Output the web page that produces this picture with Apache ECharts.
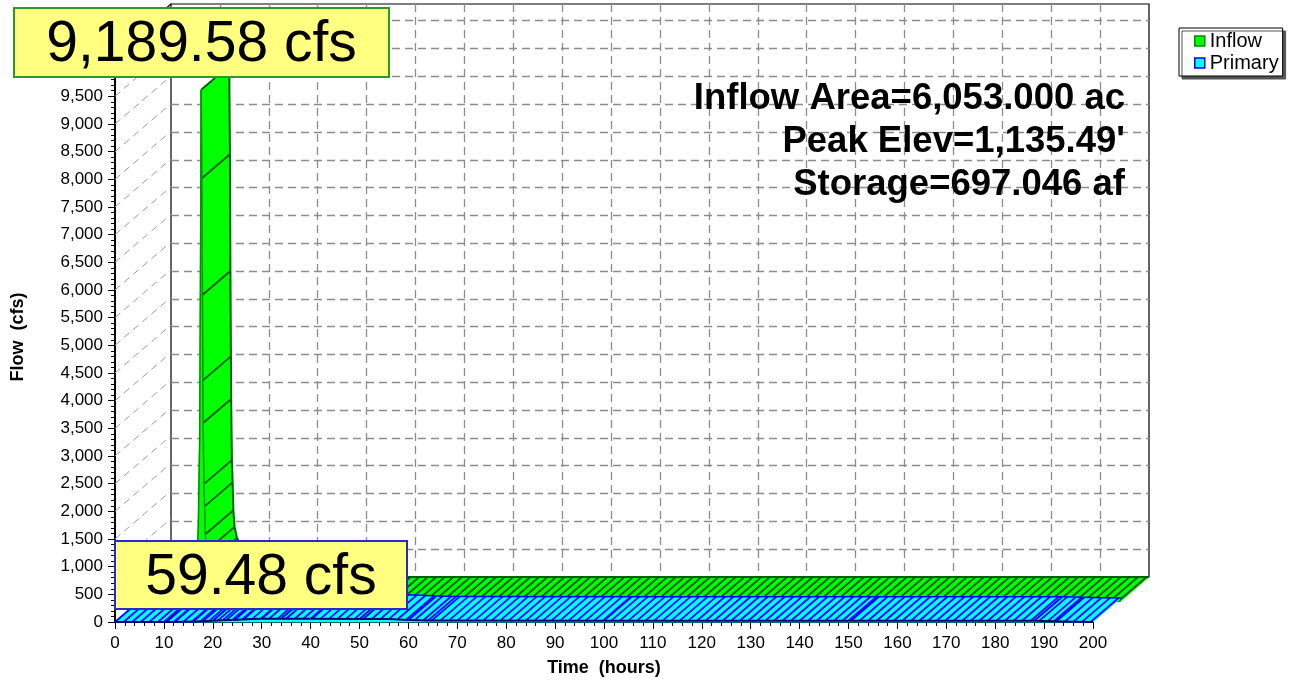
<!DOCTYPE html>
<html><head><meta charset="utf-8">
<script src="https://cdn.jsdelivr.net/npm/echarts@6/dist/echarts.min.js"></script>
<style>html,body{margin:0;padding:0;background:#fff}#c{width:1294px;height:682px}</style>
</head><body><div id="c"></div>
<script>
// ---- data ----
const seriesNames = ['Inflow', 'Primary'];
const inflowHours = [0, 6, 9, 10, 11, 11.3, 11.6, 11.8, 11.9, 12.05, 12.15, 12.3, 12.45, 12.6, 12.75, 13, 13.5, 14.5, 16, 18, 20, 24, 24.5, 26, 30, 40, 200];
const inflowCfs   = [0, 20, 100, 250, 700, 1300, 3000, 7000, 9189.58, 7600, 5500, 3200, 2100, 1700, 1200, 900, 700, 550, 450, 380, 330, 280, 150, 50, 15, 0, 0];
const primaryHours = [0, 10, 12, 14, 16, 18, 20, 22, 24, 26, 28, 30, 34, 40, 50, 56, 60, 64, 100, 150, 188, 192, 196, 200];
const primaryCfs   = [0, 0, 1, 5, 10, 15, 22, 30, 38, 45, 52, 57, 59.48, 58, 55, 52, 35, 25, 24, 23, 22, 14, 4, 0];
const statsLines = ['Inflow Area=6,053.000 ac', "Peak Elev=1,135.49'", 'Storage=697.046 af'];
const xAxisName = 'Time  (hours)';
const yAxisName = 'Flow  (cfs)';
const X_MIN = 0, X_MAX = 200, X_STEP = 10;
const Y_MIN = 0, Y_MAX = 10300, Y_STEP = 500;

// ---- layout / style ----
const FONT = '"Liberation Sans", Arial, sans-serif';
const GL = 115, GT = 52, GW = 978, GH = 573;   // front plane
const DX = 56, DY = 48;                         // full depth offset
const HATCH_H = 1.75;                           // hatch spacing in hours
const OX = DX / 2, OY = DY / 2;                 // depth of one ribbon

const fmt = v => v.toLocaleString('en-US');
const fmt2 = v => v.toLocaleString('en-US', {minimumFractionDigits: 2, maximumFractionDigits: 2});

// ribbon segments that face the viewer (screen rise flatter than the depth direction)
function segVisible(hours, cfs, i) {
  const sx = (hours[i + 1] - hours[i]) * GW / (X_MAX - X_MIN);
  const sy = (cfs[i + 1] - cfs[i]) * GH / (Y_MAX - Y_MIN);
  return sy * OX < sx * OY;
}
// positions of the depth (hatch) lines along the drawn polyline
function hatchAlong(hours, cfs) {
  const out = [];
  for (let i = 0; i < hours.length - 1; i++) {
    if (!segVisible(hours, cfs, i)) continue;
    const t0 = hours[i], t1 = hours[i + 1];
    out.push([t0, cfs[i]]);
    for (let k = Math.ceil(t0 / HATCH_H - 1e-9); k * HATCH_H < t1 - 1e-9; k++) {
      const f = (k * HATCH_H - t0) / (t1 - t0);
      if (f > 1e-6) out.push([k * HATCH_H, cfs[i] + f * (cfs[i + 1] - cfs[i])]);
    }
  }
  return out;
}

// top surface of a ribbon: one quad per segment, extruded in depth
function ribbon(hours, cfs, sty) {
  return function (params, api) {
    const i = params.dataIndex;
    if (i >= hours.length - 1) return null;
    const a = api.coord([api.value(0), api.value(1)]);
    const b = api.coord([hours[i + 1], cfs[i + 1]]);
    const c = [b[0] + OX, b[1] - OY], d = [a[0] + OX, a[1] - OY];
    return {type: 'group', children: [
      {type: 'polygon', z2: i * 2, shape: {points: [a, b, c, d]}, style: {fill: sty.fill, stroke: sty.fill, lineWidth: 0.8}},
      {type: 'line', z2: i * 2 + 1, shape: {x1: d[0], y1: d[1], x2: c[0], y2: c[1]}, style: {stroke: sty.back, lineWidth: sty.backW}}
    ]};
  };
}
// front face of a ribbon: area between the curve and zero
function frontFace(hours, cfs, sty) {
  return function (params, api) {
    const i = params.dataIndex;
    if (i >= hours.length - 1) return null;
    const a = api.coord([api.value(0), api.value(1)]);
    const b = api.coord([hours[i + 1], cfs[i + 1]]);
    const b0 = api.coord([hours[i + 1], 0]), a0 = api.coord([api.value(0), 0]);
    return {type: 'group', children: [
      {type: 'polygon', shape: {points: [a, b, b0, a0]}, style: {fill: sty.fill, stroke: sty.fill, lineWidth: 0.8}},
      {type: 'line', z2: 5, shape: {x1: a[0], y1: a[1], x2: b[0], y2: b[1]}, style: {stroke: sty.line, lineWidth: sty.lineW}}
    ]};
  };
}
function hatchRender(color, width) {
  return function (params, api) {
    const p = api.coord([api.value(0), api.value(1)]);
    return {type: 'line', shape: {x1: p[0], y1: p[1], x2: p[0] + OX, y2: p[1] - OY}, style: {stroke: color, lineWidth: width}};
  };
}

const wallTicks = [];
for (let v = Y_MIN + Y_STEP; v < Y_MAX; v += Y_STEP) wallTicks.push([0, v]);
wallTicks.push([0, Y_MAX]);

const inflowPeak = Math.max(...inflowCfs);
const primaryPeak = Math.max(...primaryCfs);
const inflowData = inflowHours.map((t, k) => [t, inflowCfs[k]]);
const primaryData = primaryHours.map((t, k) => [t, primaryCfs[k]]);

const hiddenX = (g) => ({gridIndex: g, type: 'value', min: X_MIN, max: X_MAX, interval: X_STEP, show: false});
const hiddenY = (g) => ({gridIndex: g, type: 'value', min: Y_MIN, max: Y_MAX, interval: Y_STEP, show: false});

const option = {
  animation: false,
  backgroundColor: '#fff',
  grid: [
    {left: GL, top: GT, width: GW, height: GH},
    {left: GL + DX, top: GT - DY, width: GW, height: GH, show: true, borderColor: '#000', borderWidth: 1.2, backgroundColor: 'transparent', z: 0},
    {left: GL + OX, top: GT - OY, width: GW, height: GH}
  ],
  xAxis: [
    {gridIndex: 0, type: 'value', min: X_MIN, max: X_MAX, interval: X_STEP,
      axisLine: {show: true, onZero: false, lineStyle: {color: '#000', width: 1.2}},
      axisTick: {show: true, length: 7, lineStyle: {color: '#000', width: 1}},
      minorTick: {show: true, splitNumber: 5, length: 4, lineStyle: {color: '#000', width: 1}},
      axisLabel: {fontSize: 17, color: '#000', margin: 13, fontFamily: FONT},
      splitLine: {show: false},
      name: xAxisName, nameLocation: 'middle', nameGap: 37,
      nameTextStyle: {fontSize: 18, fontWeight: 'bold', color: '#000', fontFamily: FONT}},
    {gridIndex: 1, type: 'value', min: X_MIN, max: X_MAX, interval: X_STEP,
      axisLine: {show: false}, axisTick: {show: false}, axisLabel: {show: false},
      splitLine: {show: true, showMinLine: false, showMaxLine: false, lineStyle: {color: '#8c8c8c', width: 1.3, type: [8, 5]}}},
    hiddenX(2)
  ],
  yAxis: [
    {gridIndex: 0, type: 'value', min: Y_MIN, max: Y_MAX, interval: Y_STEP,
      axisLine: {show: true, onZero: false, lineStyle: {color: '#000', width: 2}},
      axisTick: {show: true, length: 7, lineStyle: {color: '#000', width: 1}},
      minorTick: {show: true, splitNumber: 5, length: 4, lineStyle: {color: '#000', width: 1}},
      axisLabel: {fontSize: 17, color: '#000', margin: 12, fontFamily: FONT, formatter: fmt, showMaxLabel: false},
      splitLine: {show: false},
      name: yAxisName, nameLocation: 'middle', nameGap: 88,
      nameTextStyle: {fontSize: 18, fontWeight: 'bold', color: '#000', fontFamily: FONT}},
    {gridIndex: 1, type: 'value', min: Y_MIN, max: Y_MAX, interval: Y_STEP,
      axisLine: {show: false}, axisTick: {show: false}, axisLabel: {show: false},
      splitLine: {show: true, showMinLine: false, showMaxLine: false, lineStyle: {color: '#8c8c8c', width: 1.3, type: [8, 5]}}},
    hiddenY(2)
  ],
  legend: {
    orient: 'vertical', left: 1179, top: 28, selectedMode: false,
    itemWidth: 10, itemHeight: 10, itemGap: 2,
    padding: [3, 4, 3, 15],
    backgroundColor: '#fff', borderColor: '#000', borderWidth: 1,
    shadowColor: '#555', shadowOffsetX: 3, shadowOffsetY: 3, shadowBlur: 0,
    textStyle: {fontSize: 20, color: '#000', fontFamily: FONT, lineHeight: 17},
    data: [
      {name: seriesNames[0], icon: 'rect', itemStyle: {color: '#00ff00', borderColor: '#008800', borderWidth: 1.5}},
      {name: seriesNames[1], icon: 'rect', itemStyle: {color: '#00ffff', borderColor: '#0000ff', borderWidth: 1.5}}
    ]
  },
  series: [
    {type: 'custom', name: 'wall', xAxisIndex: 0, yAxisIndex: 0, z: 1, silent: true, clip: false,
      data: wallTicks,
      renderItem: function (params, api) {
        const v = api.value(1);
        const p = api.coord([api.value(0), v]);
        const top = v === Y_MAX;
        return {type: 'line', shape: {x1: p[0], y1: p[1], x2: p[0] + DX, y2: p[1] - DY},
          style: {stroke: top ? '#000' : '#9a9a9a', lineWidth: top ? 1.2 : 1, lineDash: top ? null : [7, 5]}};
      }},
    // Inflow ribbon (back half of the depth)
    {type: 'custom', name: seriesNames[0], xAxisIndex: 2, yAxisIndex: 2, z: 3, silent: true, clip: false,
      data: inflowData, renderItem: ribbon(inflowHours, inflowCfs, {fill: '#00ff00', back: '#006400', backW: 2})},
    {type: 'custom', name: seriesNames[0], xAxisIndex: 2, yAxisIndex: 2, z: 4, silent: true, clip: false,
      data: hatchAlong(inflowHours, inflowCfs), renderItem: hatchRender('#005800', 1.8)},
    {type: 'custom', name: seriesNames[0], xAxisIndex: 2, yAxisIndex: 2, z: 5, silent: true, clip: false,
      data: inflowData, renderItem: frontFace(inflowHours, inflowCfs, {fill: '#00ff00', line: '#009000', lineW: 1.5})},
    // Primary ribbon (front half of the depth)
    {type: 'custom', name: seriesNames[1], xAxisIndex: 0, yAxisIndex: 0, z: 6, silent: true, clip: false,
      data: primaryData, renderItem: ribbon(primaryHours, primaryCfs, {fill: '#00ffff', back: '#0000ff', backW: 1.5})},
    {type: 'custom', name: seriesNames[1], xAxisIndex: 0, yAxisIndex: 0, z: 7, silent: true, clip: false,
      data: hatchAlong(primaryHours, primaryCfs), renderItem: hatchRender('#0000ff', 1.8)},
    {type: 'custom', name: seriesNames[1], xAxisIndex: 0, yAxisIndex: 0, z: 8, silent: true, clip: false,
      data: primaryData, renderItem: frontFace(primaryHours, primaryCfs, {fill: '#00ffff', line: '#000070', lineW: 2})}
  ],
  graphic: [
    {type: 'rect', z: 100, shape: {x: 14, y: 8, width: 375, height: 69}, style: {fill: '#ffff80', stroke: '#2a9a2a', lineWidth: 2}},
    {type: 'text', z: 101, x: 201.5, y: 45, style: {text: fmt2(inflowPeak) + ' cfs', fill: '#000', font: '57px ' + FONT, textAlign: 'center', textVerticalAlign: 'middle'}},
    {type: 'rect', z: 100, shape: {x: 115, y: 541, width: 292, height: 68}, style: {fill: '#ffff80', stroke: '#2a2acc', lineWidth: 2}},
    {type: 'text', z: 101, x: 261, y: 578, style: {text: fmt2(primaryPeak) + ' cfs', fill: '#000', font: '57px ' + FONT, textAlign: 'center', textVerticalAlign: 'middle'}},
    ...statsLines.map((s, k) => ({type: 'text', z: 50, x: 1125, y: 99 + k * 43,
      style: {text: s, fill: '#000', font: 'bold 36.5px ' + FONT, textAlign: 'right', textVerticalAlign: 'middle'}}))
  ]
};

const chart = echarts.init(document.getElementById('c'), null, {renderer: 'canvas'});
chart.setOption(option);
</script>
</body></html>
